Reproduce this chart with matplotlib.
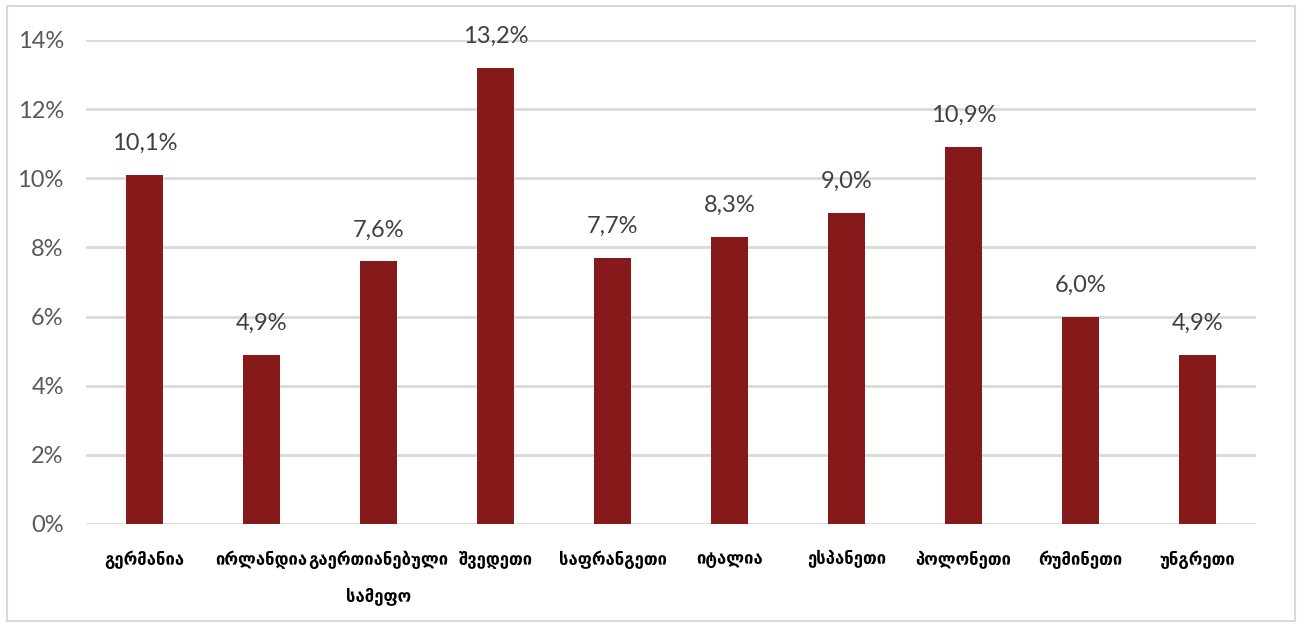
import matplotlib.pyplot as plt
from matplotlib.patches import Rectangle

# data
countries = ['გერმანია', 'ირლანდია', 'გაერთიანებული\nსამეფო', 'შვედეთი',
             'საფრანგეთი', 'იტალია', 'ესპანეთი', 'პოლონეთი', 'რუმინეთი',
             'უნგრეთი']
values = [10.1, 4.9, 7.6, 13.2, 7.7, 8.3, 9.0, 10.9, 6.0, 4.9]
yticks = [0, 2, 4, 6, 8, 10, 12, 14]

W, H = 1303, 627
fig = plt.figure(figsize=(W / 100, H / 100), dpi=100)
ax = fig.add_axes([86 / W, 1 - 524 / H, 1170 / W, 484 / H])

x = range(len(countries))
ax.bar(x, values, width=0.31, color='#861a1b', zorder=3)
ax.set_xlim(-0.5, len(countries) - 0.5)
ax.set_ylim(0, 14)

ax.set_yticks(yticks)
ax.set_yticklabels([f'{t}%' for t in yticks], family='Lato', fontsize=17,
                   color='#595959')
ax.set_xticks(list(x))
ax.set_xticklabels(countries, family='DejaVu Sans', fontweight='bold',
                   fontsize=12, color='black', linespacing=2.4, va='top')
ax.tick_params(axis='y', length=0, pad=16)
ax.tick_params(axis='x', length=0, pad=19)
ax.grid(axis='y', color='#d9d9d9', linewidth=2, zorder=0)
for s in ax.spines.values():
    s.set_visible(False)

for i, v in enumerate(values):
    ax.annotate(f'{v:.1f}%'.replace('.', ','), (i, v), xytext=(0, 15),
                textcoords='offset points', ha='center', va='bottom',
                family='Lato', fontsize=17, color='#404040')

fig.patches.append(Rectangle((7 / W, 1 - 621 / H), 1288 / W, 615 / H,
                             transform=fig.transFigure, fill=False,
                             edgecolor='#d9d9d9', linewidth=1.5))

fig.savefig('out.png', dpi=100)
